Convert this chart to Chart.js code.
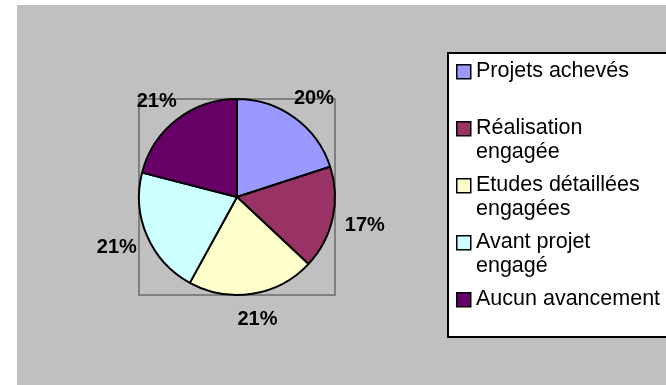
<!DOCTYPE html>
<html lang="fr">
<head>
<meta charset="utf-8">
<title>Avancement des projets</title>
<script src="https://cdn.jsdelivr.net/npm/chart.js@4/dist/chart.umd.min.js"></script>
<style>
  html, body { margin: 0; padding: 0; background: #ffffff; }
  #wrap { position: relative; width: 666px; height: 385px; }
</style>
</head>
<body>
<div id="wrap"><canvas id="pie" width="666" height="385"></canvas></div>
<script>
// Project progress categories (legend lines) and their shares in percent
const categories = [
  ["Projets achevés"],
  ["Réalisation", "engagée"],
  ["Etudes détaillées", "engagées"],
  ["Avant projet", "engagé"],
  ["Aucun avancement"]
];
const shares = [20, 17, 21, 21, 21];
const sliceColors = ["#9999FF", "#993366", "#FFFFCC", "#CCFFFF", "#660066"];

const FONT = "'Liberation Sans', Arial, Helvetica, sans-serif";

// Grey chart background, with the plot-area frame around the pie
const backdrop = {
  id: "backdrop",
  beforeDraw(chart) {
    const { ctx, chartArea: a } = chart;
    ctx.save();
    ctx.fillStyle = "#C0C0C0";
    ctx.fillRect(17, 5, chart.width - 17, chart.height - 5);
    ctx.strokeStyle = "#808080";
    ctx.lineWidth = 2;
    ctx.strokeRect(a.left + 1, a.top + 1, a.width - 2, a.height - 2);
    ctx.restore();
  }
};

// Percentage labels outside each slice
const sliceLabels = {
  id: "sliceLabels",
  afterDatasetsDraw(chart) {
    const { ctx } = chart;
    const meta = chart.getDatasetMeta(0);
    const values = chart.data.datasets[0].data;
    ctx.save();
    ctx.font = "bold 20px " + FONT;
    ctx.fillStyle = "#000000";
    ctx.textAlign = "center";
    ctx.textBaseline = "alphabetic";
    meta.data.forEach((arc, i) => {
      const p = arc.getProps(["x", "y", "startAngle", "endAngle", "outerRadius"], true);
      const mid = (p.startAngle + p.endAngle) / 2;
      const cx = p.x + (p.outerRadius + 33) * Math.cos(mid);
      const cy = p.y + (p.outerRadius + 25) * Math.sin(mid);
      ctx.fillText(values[i] + "%", cx, cy + 7);
    });
    ctx.restore();
  }
};

// Boxed legend on the right with wrapped entries
const sideLegend = {
  id: "sideLegend",
  afterDraw(chart) {
    const { ctx } = chart;
    const ds = chart.data.datasets[0];
    ctx.save();
    ctx.fillStyle = "#ffffff";
    ctx.fillRect(448, 53, chart.width - 448 + 10, 284);
    ctx.strokeStyle = "#000000";
    ctx.lineWidth = 2;
    ctx.strokeRect(448, 53, chart.width - 448 + 10, 284);

    ctx.font = "21.5px " + FONT;
    ctx.textAlign = "left";
    ctx.textBaseline = "alphabetic";
    chart.data.labels.forEach((lines, i) => {
      const base = 77 + i * 57;
      ctx.fillStyle = ds.backgroundColor[i];
      ctx.fillRect(456.75, base - 12.25, 14, 14);
      ctx.lineWidth = 1.5;
      ctx.strokeStyle = "#000000";
      ctx.strokeRect(456.75, base - 12.25, 14, 14);
      ctx.fillStyle = "#000000";
      lines.forEach((line, k) => ctx.fillText(line, 476, base + k * 23.5));
    });
    ctx.restore();
  }
};

new Chart(document.getElementById("pie"), {
  type: "pie",
  data: {
    labels: categories,
    datasets: [{
      data: shares,
      backgroundColor: sliceColors,
      borderColor: "#000000",
      borderWidth: 2
    }]
  },
  options: {
    responsive: false,
    animation: false,
    layout: { padding: { left: 138, top: 98, right: 330, bottom: 89 } },
    plugins: {
      legend: { display: false },
      tooltip: { enabled: false }
    }
  },
  plugins: [backdrop, sliceLabels, sideLegend]
});
</script>
</body>
</html>
